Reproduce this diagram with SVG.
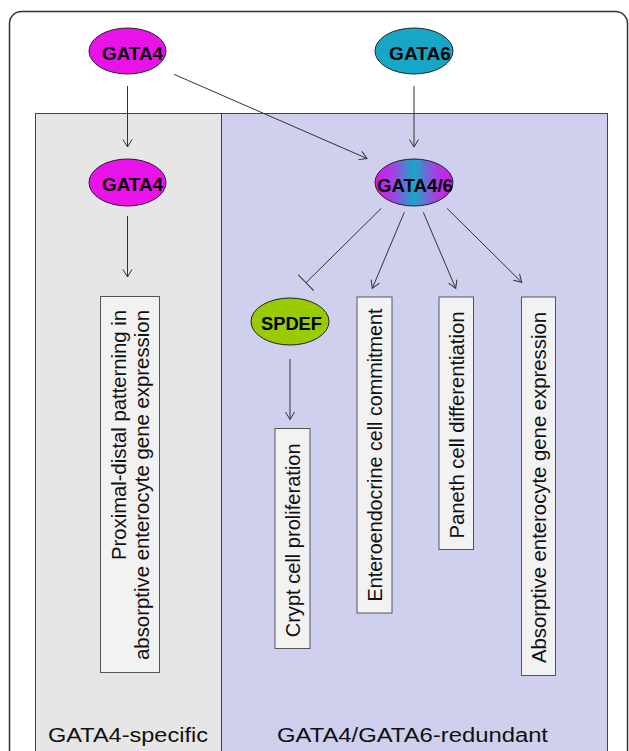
<svg xmlns="http://www.w3.org/2000/svg" width="629" height="751" viewBox="0 0 629 751">
<style>
.frame{fill:#ffffff;stroke:#333333;stroke-width:1.5}
.panelA{fill:#e6e6e6;stroke:#444444;stroke-width:1}
.panelB{fill:#cfcfee;stroke:#444444;stroke-width:1}
.node{stroke:#222222;stroke-width:1}
.box{fill:#f2f2f2;stroke:#555555;stroke-width:1}
.nl{font-family:"Liberation Sans",Arial,sans-serif;font-weight:bold;font-size:19px;fill:#000}
.bl{font-family:"Liberation Sans",Arial,sans-serif;font-size:20px;fill:#111}
.edge{stroke:#333333;stroke-width:1;fill:none}
</style>
<defs>
<linearGradient id="g46" x1="0" y1="0" x2="1" y2="0">
<stop offset="0" stop-color="#e010f0"/>
<stop offset="0.25" stop-color="#9a48e0"/>
<stop offset="0.5" stop-color="#18a8c8"/>
<stop offset="0.75" stop-color="#9a48e0"/>
<stop offset="1" stop-color="#e010f0"/>
</linearGradient>
<marker id="arr" markerUnits="userSpaceOnUse" markerWidth="12" markerHeight="12" refX="8" refY="5" orient="auto">
<path d="M0.5,0.5 L8,5 L0.5,9.5" fill="none" stroke="#333333" stroke-width="1"/>
</marker>
<marker id="tee" markerUnits="userSpaceOnUse" markerWidth="4" markerHeight="24" refX="1" refY="12" orient="auto">
<path d="M1,1 L1,23" fill="none" stroke="#333333" stroke-width="1"/>
</marker>
</defs>
<rect class="frame" x="9.5" y="11.5" width="618" height="800" rx="12" ry="12"/>
<rect class="panelA" x="35.5" y="113.5" width="186" height="700"/>
<rect class="panelB" x="221.5" y="113.5" width="386" height="700"/>
<text class="bl" x="48" y="741.5" textLength="160" lengthAdjust="spacingAndGlyphs">GATA4-specific</text>
<text class="bl" x="277" y="741.5" textLength="271" lengthAdjust="spacingAndGlyphs">GATA4/GATA6-redundant</text>
<g id="connectors">
<line class="edge" x1="127.5" y1="86" x2="127.5" y2="147" marker-end="url(#arr)"/>
<line class="edge" x1="174" y1="74.3" x2="367" y2="158.5" marker-end="url(#arr)"/>
<line class="edge" x1="414" y1="86" x2="414" y2="147" marker-end="url(#arr)"/>
<line class="edge" x1="127.5" y1="216" x2="127.5" y2="277" marker-end="url(#arr)"/>
<line class="edge" x1="381.3" y1="208.3" x2="306" y2="282.7" marker-end="url(#tee)"/>
<line class="edge" x1="404.3" y1="212.3" x2="372.3" y2="288.3" marker-end="url(#arr)"/>
<line class="edge" x1="423.3" y1="212.3" x2="455.7" y2="288.3" marker-end="url(#arr)"/>
<line class="edge" x1="447" y1="208.3" x2="521.7" y2="282.3" marker-end="url(#arr)"/>
<line class="edge" x1="290" y1="359" x2="290" y2="419.5" marker-end="url(#arr)"/>
</g>
<g id="gata4_top">
<ellipse class="node" cx="127.5" cy="51" rx="38.5" ry="23" fill="#e913e9"/>
<text class="nl" x="102" y="59.5" textLength="61" lengthAdjust="spacingAndGlyphs">GATA4</text>
</g>
<g id="gata6">
<ellipse class="node" cx="414" cy="51" rx="39" ry="23" fill="#17a6c6"/>
<text class="nl" x="389" y="59.5" textLength="62" lengthAdjust="spacingAndGlyphs">GATA6</text>
</g>
<g id="gata4_specific">
<ellipse class="node" cx="127.5" cy="182.5" rx="38.5" ry="23.5" fill="#e913e9"/>
<text class="nl" x="102" y="191" textLength="61" lengthAdjust="spacingAndGlyphs">GATA4</text>
</g>
<g id="gata46">
<ellipse class="node" cx="414" cy="182.5" rx="39" ry="23.5" fill="url(#g46)"/>
<text class="nl" x="377" y="191.5" textLength="76" lengthAdjust="spacingAndGlyphs">GATA4/6</text>
</g>
<g id="spdef">
<ellipse class="node" cx="290" cy="321.5" rx="39" ry="23.5" fill="#99cc00"/>
<text class="nl" x="261" y="330" textLength="61" lengthAdjust="spacingAndGlyphs">SPDEF</text>
</g>
<g id="proximal">
<rect class="box" x="100.5" y="296.5" width="59" height="376"/>
<text class="bl" transform="translate(125.5,310) rotate(-90)" text-anchor="end" textLength="250" lengthAdjust="spacingAndGlyphs">Proximal-distal patterning in</text>
<text class="bl" transform="translate(149,310) rotate(-90)" text-anchor="end" textLength="350" lengthAdjust="spacingAndGlyphs">absorptive enterocyte gene expression</text>
</g>
<g id="crypt">
<rect class="box" x="275" y="428.5" width="35" height="220"/>
<text class="bl" transform="translate(299.5,540.3) rotate(-90)" text-anchor="middle" textLength="194" lengthAdjust="spacingAndGlyphs">Crypt cell proliferation</text>
</g>
<g id="enteroendocrine">
<rect class="box" x="357" y="297" width="35" height="316"/>
<text class="bl" transform="translate(381.5,455) rotate(-90)" text-anchor="middle" textLength="293" lengthAdjust="spacingAndGlyphs">Enteroendocrine cell commitment</text>
</g>
<g id="paneth">
<rect class="box" x="439" y="297" width="34.5" height="252.5"/>
<text class="bl" transform="translate(463.5,425) rotate(-90)" text-anchor="middle" textLength="227" lengthAdjust="spacingAndGlyphs">Paneth cell differentiation</text>
</g>
<g id="absorptive">
<rect class="box" x="521.5" y="297" width="34" height="378.5"/>
<text class="bl" transform="translate(546,487.5) rotate(-90)" text-anchor="middle" textLength="351" lengthAdjust="spacingAndGlyphs">Absorptive enterocyte gene expression</text>
</g>
</svg>
